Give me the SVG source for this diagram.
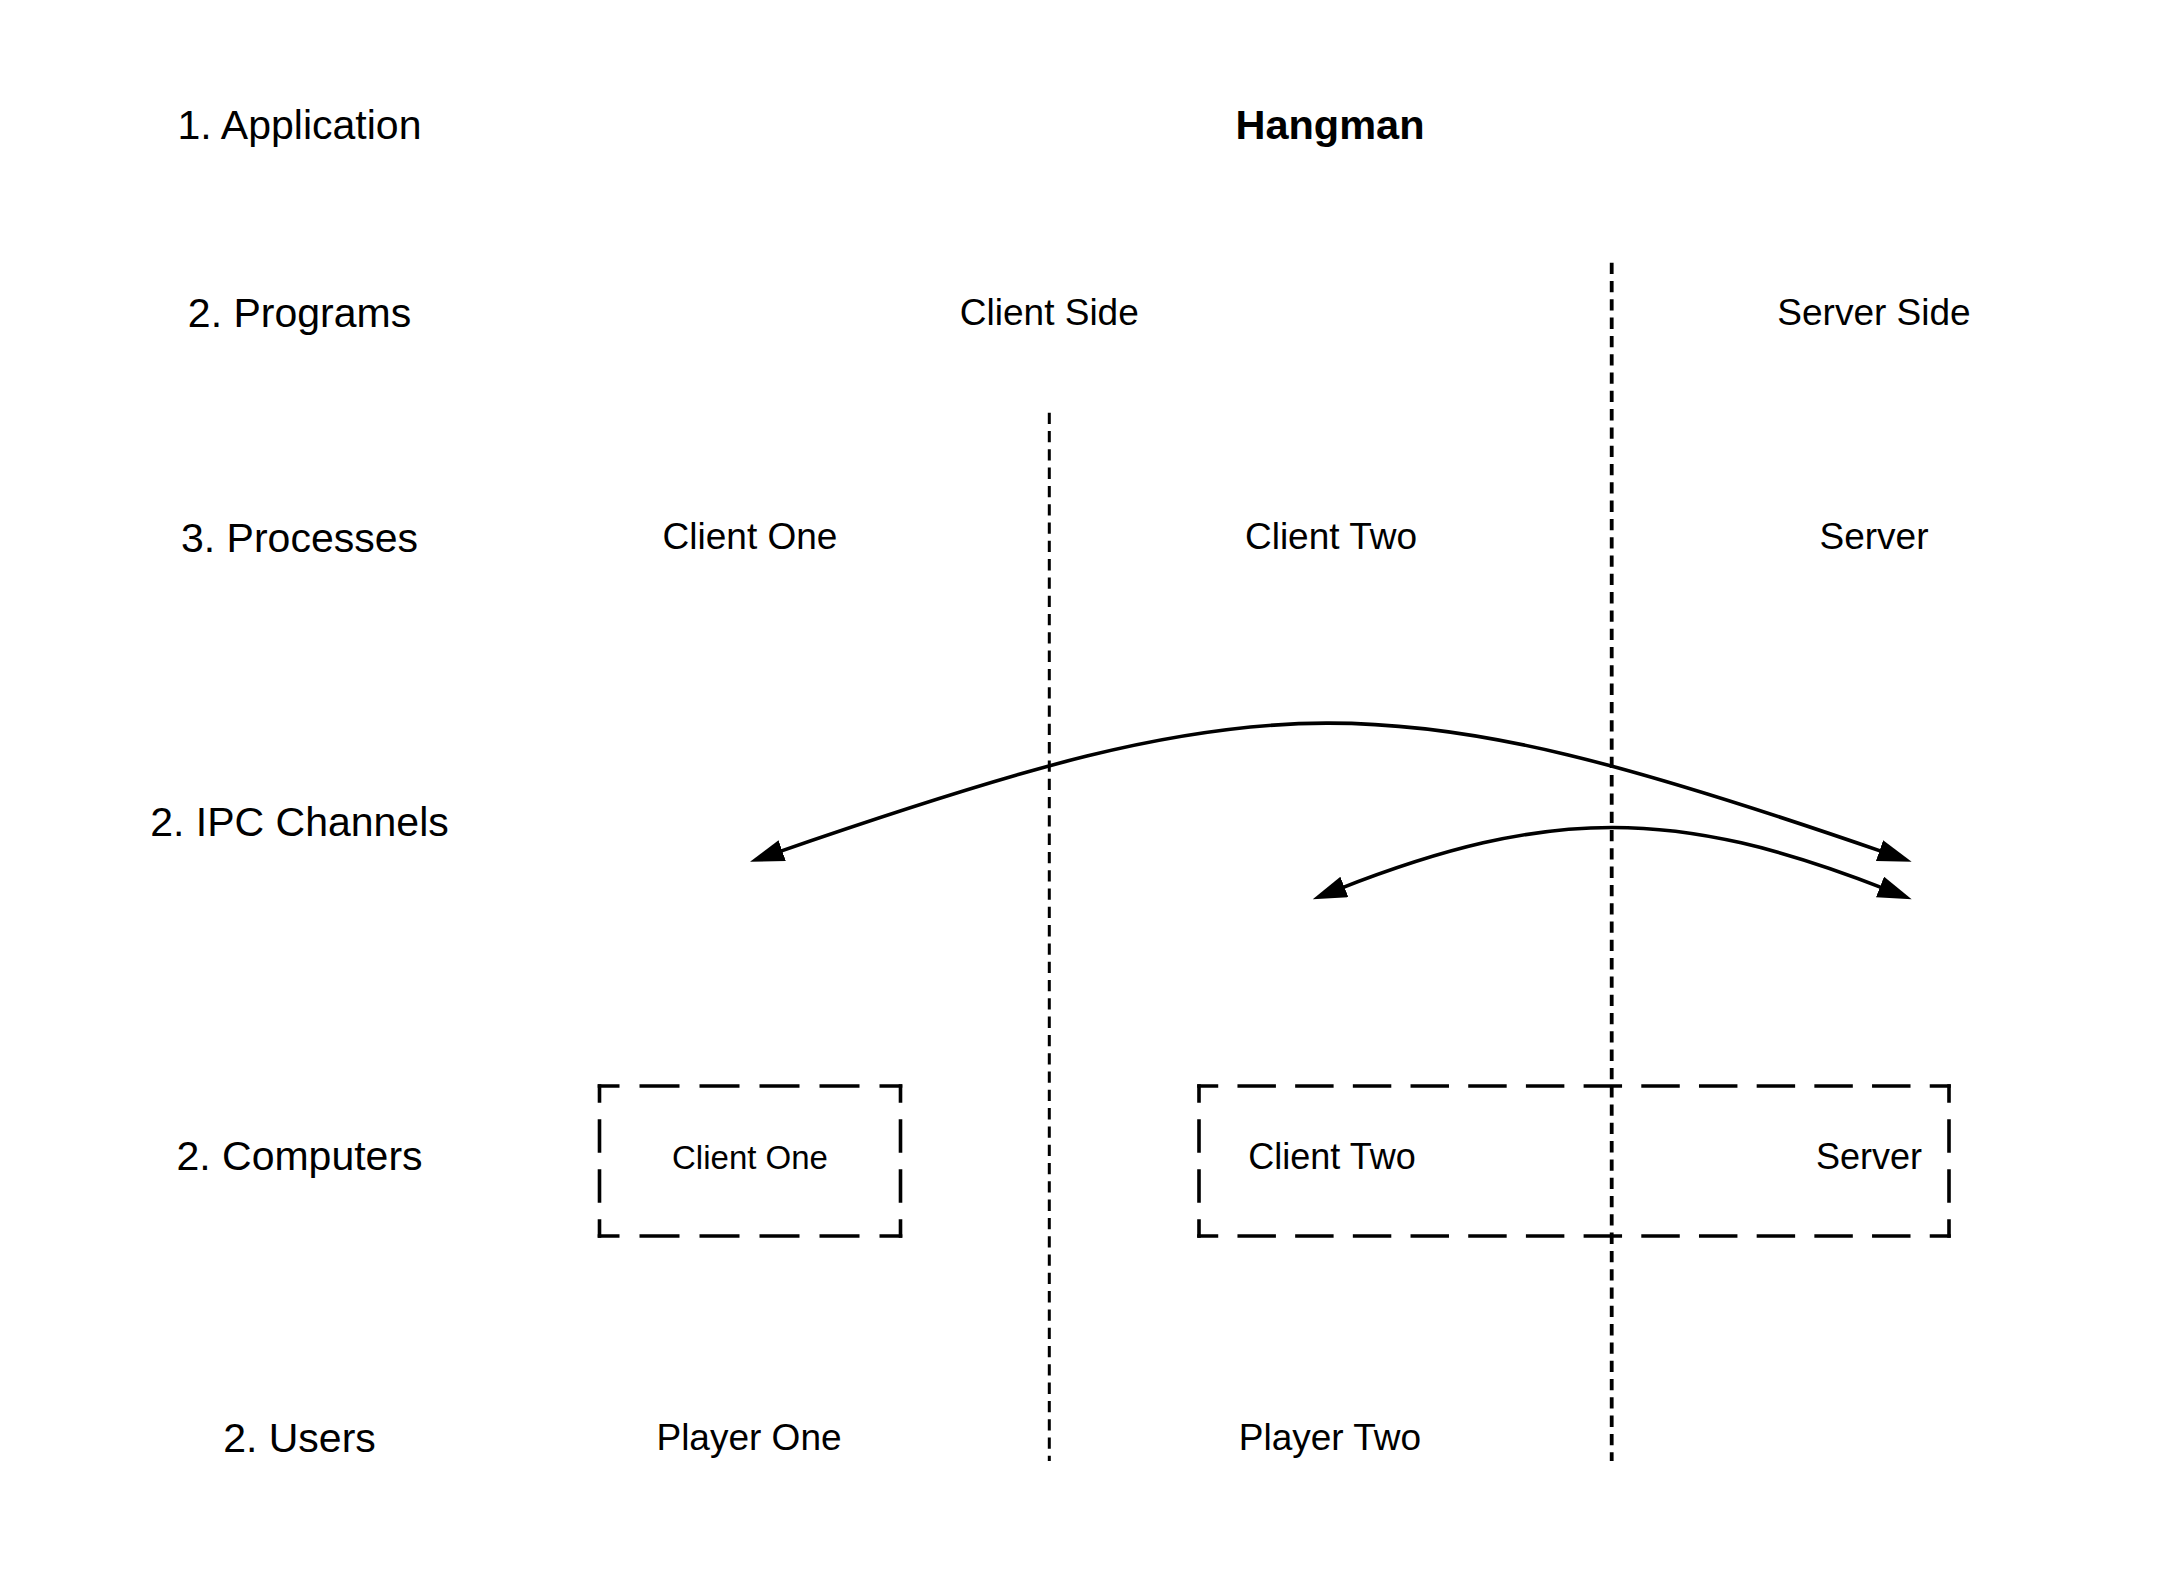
<svg xmlns="http://www.w3.org/2000/svg" width="2175" height="1575" viewBox="0 0 2175 1575">
<style>
text{font-family:"Liberation Sans",Arial,sans-serif;fill:#000;text-anchor:middle}
.lbl{font-size:41px}
.mid{font-size:37px}
.title{font-size:41.5px;font-weight:bold}
.b1{font-size:33px}
.b2{font-size:36px}
.sep{fill:none;stroke:#000}
.edge{fill:none;stroke:#000;stroke-width:3.6;marker-start:url(#arrow);marker-end:url(#arrow)}
.bx{fill:none;stroke:#000;stroke-width:3.6;stroke-linecap:square}
.h1{stroke-dasharray:36.4 23.6;stroke-dashoffset:18.2}
.h2{stroke-dasharray:34.86 22.83;stroke-dashoffset:17.43}
.v{stroke-dasharray:29.73 20.27;stroke-dashoffset:14.87}
</style>
<defs>
<marker id="arrow" markerUnits="userSpaceOnUse" markerWidth="40" markerHeight="30" viewBox="0 0 40 30" refX="6" refY="11" orient="auto-start-reverse">
<path d="M0,0 L34,11 L0,22 Z" fill="#000"/>
</marker>
</defs>
<rect width="2175" height="1575" fill="#fff"/>

<g id="row-labels">
<text class="lbl" x="299.5" y="138.7">1. Application</text>
<text class="lbl" x="299.5" y="326.7">2. Programs</text>
<text class="lbl" x="299.5" y="551.7">3. Processes</text>
<text class="lbl" x="299.5" y="835.9">2. IPC Channels</text>
<text class="lbl" x="299.5" y="1170">2. Computers</text>
<text class="lbl" x="299.5" y="1451.7">2. Users</text>
</g>

<g id="separators">
<line class="sep" x1="1049.3" y1="412.7" x2="1049.3" y2="1461" stroke-width="3" stroke-dasharray="11.3 7"/>
<line class="sep" x1="1611.7" y1="262.7" x2="1611.7" y2="1461" stroke-width="3.8" stroke-dasharray="11.3 7"/>
</g>

<g id="hangman"><text class="title" x="1330" y="138.7">Hangman</text></g>
<g id="client-side"><text class="mid" x="1049.3" y="325">Client Side</text></g>
<g id="server-side"><text class="mid" x="1874" y="325">Server Side</text></g>

<g id="proc-client-one"><text class="mid" x="750" y="549">Client One</text></g>
<g id="proc-client-two"><text class="mid" x="1331" y="549">Client Two</text></g>
<g id="proc-server"><text class="mid" x="1874" y="549">Server</text></g>

<g id="computer-one">
<line class="bx h1" x1="599.5" y1="1086" x2="900.5" y2="1086"/>
<line class="bx h1" x1="599.5" y1="1236" x2="900.5" y2="1236"/>
<line class="bx v" x1="599.5" y1="1086" x2="599.5" y2="1236"/>
<line class="bx v" x1="900.5" y1="1086" x2="900.5" y2="1236"/>
<text class="b1" x="750" y="1169.3">Client One</text>
</g>

<g id="computer-two">
<line class="bx h2" x1="1199" y1="1086" x2="1949" y2="1086"/>
<line class="bx h2" x1="1199" y1="1236" x2="1949" y2="1236"/>
<line class="bx v" x1="1199" y1="1086" x2="1199" y2="1236"/>
<line class="bx v" x1="1949" y1="1086" x2="1949" y2="1236"/>
<text class="b2" x="1332" y="1169.3">Client Two</text>
<text class="b2" x="1869" y="1169.3">Server</text>
</g>

<g id="player-one"><text class="mid" x="749" y="1450">Player One</text></g>
<g id="player-two"><text class="mid" x="1330" y="1450">Player Two</text></g>

<g id="connectors">
<path class="edge" d="M776.5,852.6 C1270,682 1380,678 1885.2,852.6"/>
<path class="edge" d="M1338.8,889.1 C1548.4,806.9 1676,806.9 1885.6,889.1"/>
</g>
</svg>
